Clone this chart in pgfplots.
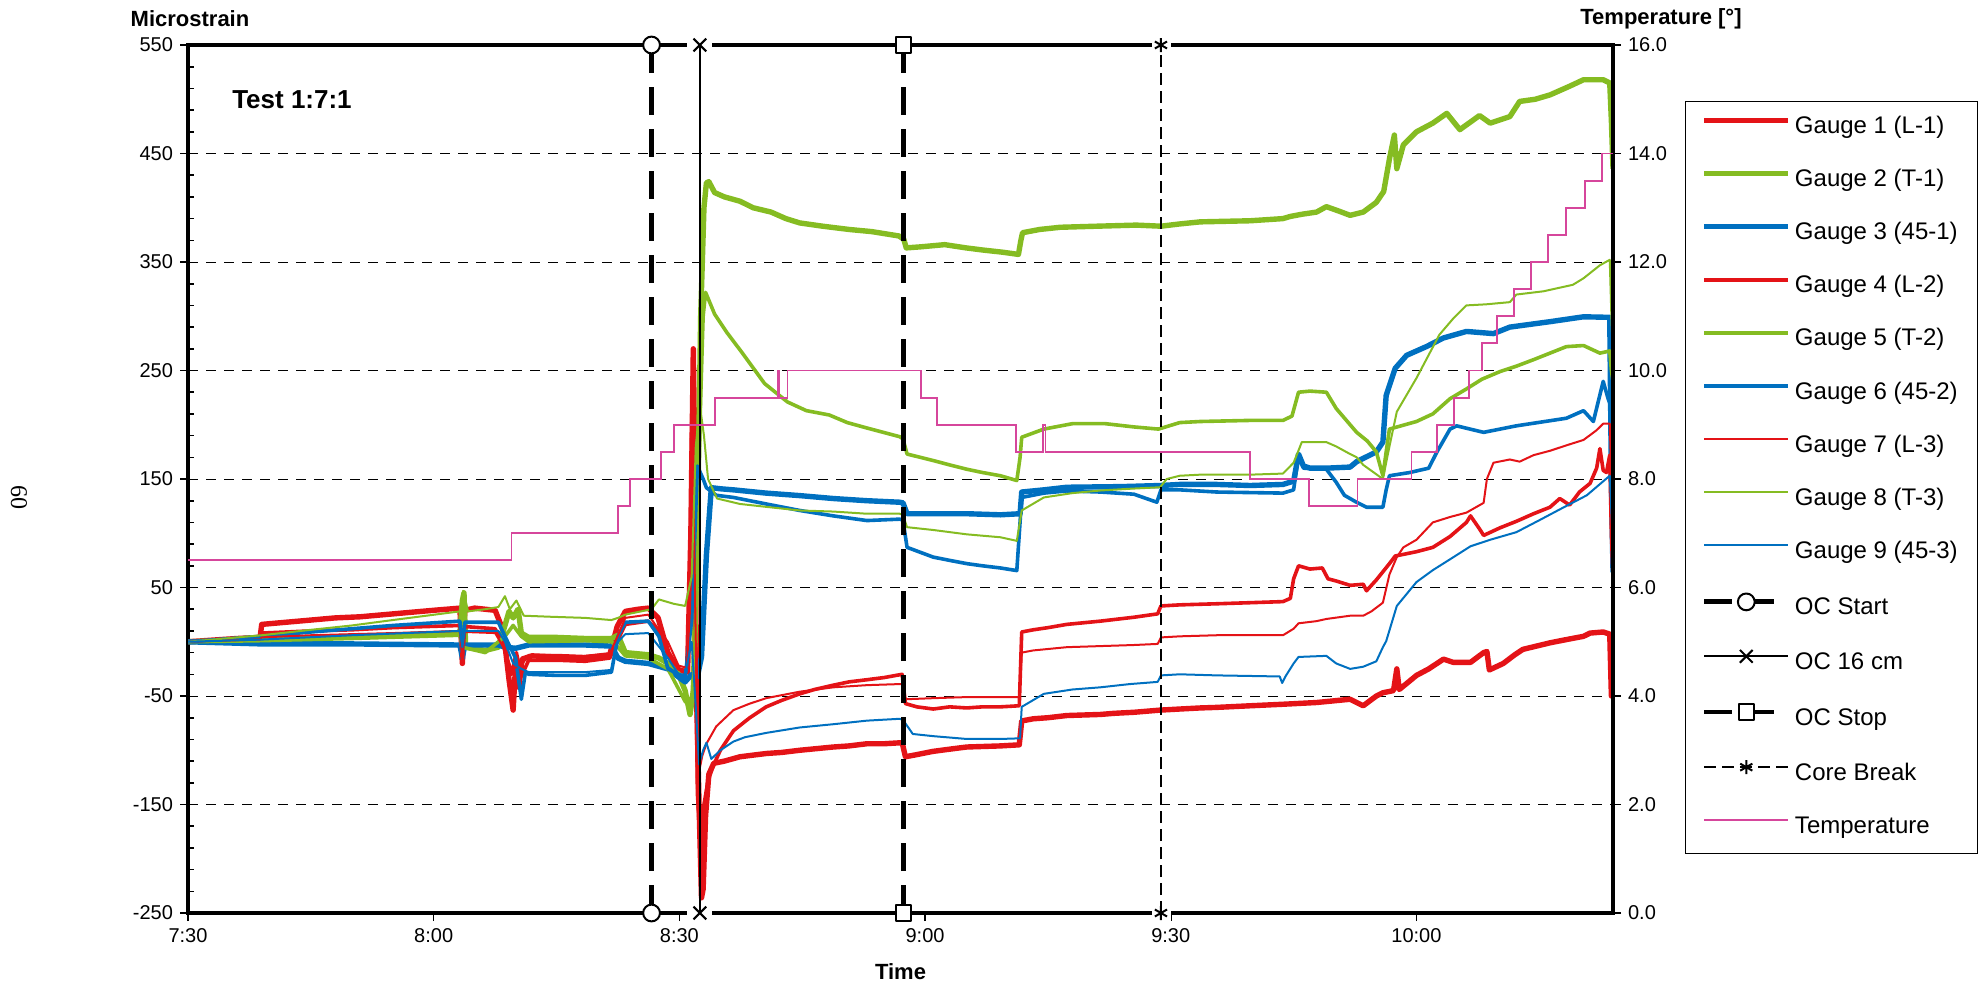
\documentclass[border=0pt]{standalone}
\usepackage{fontspec}
\setmainfont{Liberation Sans}
\newfontfamily\pnfont{Liberation Serif}
\usepackage{pgfplots}
\pgfplotsset{compat=1.18}
\definecolor{gred}{RGB}{228,19,23}
\definecolor{ggreen}{RGB}{133,188,34}
\definecolor{gblue}{RGB}{0,112,192}
\definecolor{tpink}{RGB}{214,70,156}
\pgfplotsset{
  commonaxis/.style={
    at={(94pt,36.5pt)}, anchor=south west,
    scale only axis, width=712.5pt, height=434pt,
    xmin=0, xmax=174, clip mode=individual,
    tick align=outside, major tick length=4pt,
    tick style={black, line width=0.8pt},
    axis line style={line width=2pt, black},
    tick label style={font=\fontsize{10}{12}\selectfont},
  },
}
\begin{document}
\begin{tikzpicture}
\path[use as bounding box] (0,0) rectangle (989.5pt,493pt);
\begin{axis}[commonaxis,
  ymin=-250, ymax=550,
  ytick={-250,-150,...,550},
  yticklabels={-250,-150,-50,50,150,250,350,450,550},
  xtick={0,30,60,90,120,150},
  xticklabels={7:30,8:00,8:30,9:00,9:30,10:00},
  xtick pos=bottom, ytick pos=left,
  ymajorgrids,
  major grid style={black, line width=0.5pt, dash pattern=on 5pt off 4pt},
  extra y ticks={-230,-210,-190,-170,-130,-110,-90,-70,-30,-10,10,30,70,90,110,130,170,190,210,230,270,290,310,330,370,390,410,430,470,490,510,530},
  extra y tick labels={},
  extra y tick style={grid=none, tick align=inside, major tick length=3pt},
  xlabel={Time},
  xlabel style={font=\bfseries\fontsize{11}{13}\selectfont, at={(axis description cs:0.5,0)}, anchor=center, yshift=-29.5pt},
  legend cell align=left,
  legend style={at={(1.0505,0.9355)}, anchor=north west, draw=black, line width=0.6pt, fill=white,
    inner xsep=8pt, inner ysep=7pt, row sep=14.55pt, font=\fontsize{12}{14}\selectfont,
    nodes={text height=9pt, text depth=3pt, inner ysep=0pt, inner xsep=2pt}},
  legend image code/.code={\draw[mark repeat=2,mark phase=2,#1] plot coordinates {(0pt,3.5pt) (21pt,3.5pt) (42pt,3.5pt)};},
  every axis plot/.append style={line join=round},
]
% Gauge 1
\addplot[gred, line width=2.7pt] coordinates {(0,0) (2,1) (4,2) (6,3) (8.8,4) (9.0,16) (12,18) (15,20) (18,22) (21,23) (24,25) (27,27) (30,29) (33.2,31) (33.5,-20) (33.8,29) (35,31) (37.5,29) (38.5,10) (39.2,-35) (39.7,-63) (40.0,-22) (40.4,-42) (40.8,-16) (42,-13) (45,-14) (48,-15) (51.5,-12) (52.4,14) (53.4,28) (55,30) (56.2,31) (57.4,22) (58.6,-10) (59.9,-26) (61.0,-28) (61.4,100) (61.7,270) (61.9,150) (62.1,-50) (62.4,-150) (62.7,-236) (62.9,-228) (63.2,-160) (63.6,-122) (64.2,-112) (65.5,-110) (67.4,-106) (70.6,-103) (72.5,-102) (74.7,-100) (78.8,-97) (80.7,-96) (82.9,-94) (85,-94) (87.2,-93) (87.6,-106) (89,-104) (91,-101) (93,-99) (95.1,-97) (99.2,-96) (101.5,-95) (101.8,-73) (103.2,-71) (105,-70) (107.3,-68) (111.4,-67) (113,-66) (115.5,-65) (118.7,-63) (121.1,-62) (123.6,-61) (125.6,-60.5) (129.7,-59) (133.7,-57.6) (137.8,-56) (141.9,-53) (143.5,-59) (145.1,-50) (145.9,-47) (147.2,-45) (147.6,-25) (147.9,-44) (149.2,-36) (150,-31) (151.5,-25) (153.3,-16) (154.5,-19) (156.6,-19) (158.2,-10) (158.6,-9) (158.9,-26) (160.6,-20) (162,-12) (163,-7) (166.3,-1) (168.3,2) (170.4,5) (171.2,8) (172.8,9) (173.6,7) (173.8,-50) (174,-50)};
\addlegendentry{Gauge 1 (L-1)}
% Gauge 2
\addplot[ggreen, line width=2.7pt] coordinates {(0,0) (5,1) (9,2) (15,4) (20,5) (25,6) (33.2,8) (33.5,38) (33.7,45) (33.9,-5) (36.3,-8) (37.9,-5) (38.7,15) (39.2,28) (39.7,22) (40.3,30) (40.7,8) (41.6,4) (45,4) (48.5,3) (51.7,3) (52.5,6) (53.4,-10) (56.2,-12) (57.5,-15) (58.6,-20) (59.9,-30) (60.7,-45) (61.3,-67) (61.7,-45) (62.2,100) (62.6,300) (63.0,400) (63.3,423) (63.6,424) (64.3,414) (65.5,410) (67.4,406) (69,400) (71.2,396) (73,390) (74.7,386) (77.5,383) (80.7,380) (83.5,378) (86.8,374) (87.4,371) (87.7,363) (89.5,364) (92.4,366) (95,363) (97.1,361) (99.5,359) (101.4,357) (101.7,370) (101.9,377) (104,380) (106.5,382) (111,383) (115.8,384) (118.8,383) (121,385) (123.6,387) (129.7,388) (133.7,390) (134.6,392) (136,394) (137.8,396) (139,401) (140.5,397) (141.9,393) (143.5,396) (145.1,405) (146,415) (146.7,445) (147.3,467) (147.6,436) (148.4,458) (150,470) (152,478) (153.7,487) (155.3,472) (157.7,485) (159,478) (161.4,484) (162.6,498) (164.5,500) (166.3,504) (168.7,512) (170.4,518) (172.8,518) (173.6,515) (173.8,480) (174,436)};
\addlegendentry{Gauge 2 (T-1)}
% Gauge 3
\addplot[gblue, line width=2.7pt] coordinates {(0,0) (9,-2) (20,-2) (33.2,-3) (33.5,-15) (33.8,-3) (37.9,-3) (38.7,-5) (40,-6) (41.6,-3) (48.5,-3) (51.7,-4) (52.5,-15) (53.4,-18) (56.2,-20) (58.6,-25) (60.7,-37) (61.5,-30) (62.2,-32) (62.7,-14) (63.3,80) (63.9,142) (65,141) (66.6,140) (70.6,137) (74.7,134.7) (78.8,132) (82.9,130) (86.9,128.6) (87.3,128) (87.8,118) (91,118) (95.1,118) (99.2,117) (101.6,118) (101.8,138) (104.5,140) (107.3,142.4) (114,143) (118.7,144) (121.1,145) (125.6,145) (129.7,144) (133.7,145) (135,148) (135.6,173) (136.2,162) (137,160) (139,160) (141.9,161) (142.7,166) (145.1,175) (145.9,184) (146.3,227) (147.4,252) (148.8,264) (151.2,272) (153.3,280) (156.1,286) (159.4,284) (161.4,290) (166.3,295) (170.4,299.5) (173.6,299) (173.8,150) (174,64)};
\addlegendentry{Gauge 3 (45-1)}
% Gauge 4
\addplot[gred, line width=1.8pt] coordinates {(0,0) (4,2) (8.8,4) (9.0,8) (15,10) (20,11) (25,13) (33.2,15) (33.5,-18) (33.8,14) (37.5,12) (38.5,-3) (39.5,-30) (40.1,-10) (40.7,-32) (41.6,-17) (45,-17) (48.5,-18) (51.5,-15) (52.5,2) (53.4,16) (56.2,19) (57.4,10) (58.6,-10) (59.9,-25) (60.9,-27) (61.3,40) (61.5,200) (61.7,230) (61.9,60) (62.2,-140) (62.6,-190) (63.0,-150) (63.5,-128) (64.1,-115) (65,-100) (66.6,-82) (68.6,-70) (70.6,-60) (72.5,-54) (74.7,-48) (76.5,-44) (78.8,-40) (80.7,-37) (82.9,-35) (85,-33) (87.2,-30) (87.6,-57) (89,-60) (91,-62) (93,-60) (95.1,-61) (97,-60) (99.2,-60) (101.5,-59) (101.8,9) (103.2,11) (105,13) (107.3,16) (111.4,19) (115.5,22.6) (118.4,25.7) (118.8,33) (121.1,34) (125.6,35) (129.7,36) (133.7,37) (134.6,40) (135.0,58) (135.6,70) (137,67) (138.5,68) (139.2,58) (140.2,56) (141.9,52) (143.5,53) (143.9,47) (145.1,57) (146.7,72) (147.4,79) (150,83) (152,87) (154.1,97) (156.1,110) (156.6,116) (157.7,104) (158.2,98) (160.2,105) (162.2,111) (164.3,118) (166.3,124) (167.5,132) (168.7,126) (169.9,138) (171.2,146) (172.0,160) (172.4,178) (172.8,158) (173.2,156) (173.6,172) (173.8,100) (174,60)};
\addlegendentry{Gauge 4 (L-2)}
% Gauge 5
\addplot[ggreen, line width=1.8pt] coordinates {(0,0) (9,1) (20,3) (33.2,6) (33.5,-5) (36.3,-10) (38.7,5) (39.7,15) (40.7,5) (41.6,0) (48.5,1) (51.7,0) (52.5,-5) (53.4,-13) (56.2,-15) (58.6,-25) (60.7,-55) (61.5,-60) (62,0) (62.5,200) (62.9,300) (63.2,322) (64.3,302) (65.8,285) (67.6,267) (70.4,238) (73.2,221) (75.5,213) (78.3,209) (80.5,202) (82.9,197) (86.9,189) (87.3,187) (87.8,173) (91,167) (93,163) (95.1,159) (97,156) (99.2,153) (101.2,148.6) (101.6,170) (101.8,188.5) (104.5,196) (108,201) (112,201) (115.5,198) (118.5,196) (121.1,202) (123.6,203) (129.7,204) (133.7,204) (134.8,208) (135.6,230) (137,231) (139,230) (140.2,215) (141.9,200) (142.7,193) (144,185) (145.1,175) (145.9,153) (146.3,175) (146.7,196) (150,203) (152,210) (154.1,224) (156.1,233) (158,242) (160.2,249) (162.2,254) (164.3,260) (166.3,266) (168.3,272) (170.4,273) (172.4,266) (173.6,268) (173.8,250) (174,240)};
\addlegendentry{Gauge 5 (T-2)}
% Gauge 6
\addplot[gblue, line width=1.8pt] coordinates {(0,0) (9,5) (15,9) (20,12) (25,15) (33.2,19) (33.5,-10) (33.8,18) (37.9,18) (38.7,5) (40,-15) (40.7,-53) (41.2,-28) (41.6,-30) (45,-31) (48.5,-31) (51.7,-28) (52.5,5) (53.4,18) (56.2,19) (57.5,5) (58.6,-25) (60.7,-33) (61.5,20) (62.2,162) (62.9,150) (63.3,142) (64.5,135) (66.6,133) (70.6,127) (74.7,121) (78.8,116) (82.9,111.7) (86.9,113) (87.3,112) (87.8,87) (91,78) (93,75) (95.1,72) (97,70) (99.2,68) (101.2,65.6) (101.8,133) (104.5,137) (107.3,139) (111.4,138) (115.5,136) (118.3,128.6) (118.8,140) (121.1,140) (125.6,138) (133.7,137) (135,140) (135.6,172) (136.2,160) (139,159) (140.2,147) (141.2,135) (142.7,128.5) (143.9,124) (145.9,124) (146.3,140) (146.7,153) (149.2,156) (151.5,160) (152.5,175) (154.1,196) (154.9,199) (158.2,193) (162.2,199) (168.3,206) (170.4,213) (171.6,203) (172.8,240) (173.4,224) (174,212)};
\addlegendentry{Gauge 6 (45-2)}
% Gauge 7
\addplot[gred, line width=1pt] coordinates {(0,0) (4,1) (8.8,2) (9.0,4) (15,6) (20,7) (25,8) (33.2,10) (33.5,-15) (33.8,9) (37.5,8) (38.5,-5) (39.5,-25) (40.7,-22) (41.6,-12) (45,-12) (48.5,-13) (51.5,-11) (52.5,6) (53.4,22) (56.2,25) (57.4,12) (58.6,0) (59.9,-22) (60.9,-24) (61.3,30) (61.7,150) (62.1,-50) (62.4,-120) (62.8,-105) (63.3,-94) (64.5,-78) (66.6,-63) (68.6,-57) (70.6,-52) (74.7,-46) (78.8,-42) (82.9,-40) (86.9,-39) (87.2,-39) (87.6,-53) (91,-52) (95.1,-51) (99.2,-51) (101.5,-51) (101.8,-10) (103.2,-8) (107.3,-5) (111.4,-4) (115.5,-3) (118.4,-2) (118.8,4) (121.1,5) (125.6,6) (129.7,6) (133.7,6) (135,12) (135.6,17) (137.8,19) (139,21) (141.9,24) (143.5,24) (144.5,28) (145.9,36) (146.7,62) (147.6,78) (148.4,87) (150,94) (152,110) (154.1,115) (156.1,119) (158.2,128) (158.6,150) (159.4,165) (161.4,168) (162.6,166) (164.3,172) (166.3,176) (168.3,181) (170.4,186) (172.0,195) (172.8,201) (173.6,201) (173.8,150) (174,120)};
\addlegendentry{Gauge 7 (L-3)}
% Gauge 8
\addplot[ggreen, line width=1pt] coordinates {(0,0) (9,6) (15,11) (20,15) (25,20) (33.2,28) (33.6,47) (34.2,28) (36.3,30) (37.9,32) (38.7,42) (39.3,30) (40.1,38) (41,24) (44.4,23) (48.5,22) (51.7,20) (52.5,22) (53.4,25) (56.6,30) (57.5,39) (59.3,35) (60.7,33) (61.5,60) (62.0,180) (62.5,218) (63.0,190) (63.5,150) (64.6,132) (67.4,127) (71,124) (74.7,121) (78.8,120) (82.9,118) (86.9,118) (87.3,117) (87.8,105.6) (91,103) (95.1,99) (99.2,96.3) (101.2,93) (101.8,121) (104.5,133) (108,137) (111.4,139.4) (115,141) (118.7,142.4) (119.5,150) (121.1,153) (123.6,154) (129.7,154) (133.7,155) (135,165) (136,184) (139,184) (140.2,180) (141.9,173) (142.7,170) (143.5,163) (145.9,150) (146.7,180) (147.6,212) (150,243) (152.8,283) (154.5,298) (156.1,310) (158.5,311) (161.4,313) (162.2,320) (165.5,323) (169.1,329) (170.4,335) (172.4,347) (173.6,352) (173.8,300) (174,260)};
\addlegendentry{Gauge 8 (T-3)}
% Gauge 9
\addplot[gblue, line width=1pt] coordinates {(0,0) (9,2) (20,6) (33.2,10) (33.5,-5) (33.8,10) (37.9,10) (38.7,0) (39.7,-20) (40.7,-25) (41.6,-28) (48.5,-28) (51.7,-26) (52.5,0) (53.4,7) (56.2,8) (58.6,-15) (59.9,-30) (60.7,-30) (61.5,0) (62.0,-60) (62.4,-113) (62.9,-100) (63.3,-93) (63.9,-108) (65,-100) (66.6,-92) (68,-88) (70.6,-84) (74.7,-79) (78.8,-76) (82.9,-72.7) (86.9,-71) (87.3,-72) (88.5,-85) (91,-87) (95.1,-89.6) (99.2,-89.6) (101.6,-89) (101.8,-60) (104.5,-48) (108,-44) (111.4,-42) (115,-39) (118.4,-37) (118.8,-31) (121.1,-30) (125.6,-31) (133.3,-32) (133.6,-38) (134,-32) (135,-20) (135.6,-14) (139,-13) (140.2,-20) (141.9,-25) (143.5,-23) (145.1,-18) (145.9,-5) (146.3,0.5) (147.6,33) (150,55) (152,66) (154.1,76) (156.6,88) (159,94) (162.2,101) (165,112) (167.5,122) (170.8,135) (173.6,153) (173.8,120) (174,90)};
\addlegendentry{Gauge 9 (45-3)}
% event lines
\addplot[black, line width=2.4pt, dash pattern=on 14pt off 7pt, mark=*, mark size=4.2pt, mark options={solid, fill=white, draw=black, line width=1pt}] coordinates {(56.6,-250) (56.6,550)};
\addlegendentry{OC Start}
\addplot[only marks, mark=square*, mark size=6pt, white, forget plot] coordinates {(62.5,-250) (62.5,550)};
\addplot[black, line width=1pt, mark=x, mark size=4.5pt, mark options={solid, line width=1pt}] coordinates {(62.5,-250) (62.5,550)};
\addlegendentry{OC 16 cm}
\addplot[black, line width=2.4pt, dash pattern=on 14pt off 7pt, mark=square*, mark size=3.8pt, mark options={solid, fill=white, draw=black, line width=1pt}] coordinates {(87.4,-250) (87.4,550)};
\addlegendentry{OC Stop}
\addplot[only marks, mark=square*, mark size=4.5pt, white, forget plot] coordinates {(118.8,-250) (118.8,550)};
\addplot[black, line width=1pt, dash pattern=on 6pt off 3pt, mark=asterisk, mark size=3.5pt, mark options={solid, line width=1pt}] coordinates {(118.8,-250) (118.8,550)};
\addlegendentry{Core Break}
\addlegendimage{tpink, line width=0.9pt}
\addlegendentry{Temperature}
\end{axis}
\begin{axis}[commonaxis,
  ymin=0, ymax=16,
  axis y line*=right, axis x line=none,
  ytick={0,2,...,16},
  yticklabels={0.0,2.0,4.0,6.0,8.0,10.0,12.0,14.0,16.0},
]
\addplot[tpink, line width=0.9pt] coordinates {(0,6.5) (39.5,6.5) (39.5,7.0) (52.5,7.0) (52.5,7.5) (54.0,7.5) (54.0,8.0) (57.8,8.0) (57.8,8.5) (59.3,8.5) (59.3,9.0) (64.3,9.0) (64.3,9.5) (72.0,9.5) (72.0,10.0) (72.2,10.0) (72.2,9.5) (73.2,9.5) (73.2,10.0) (89.5,10.0) (89.5,9.5) (91.5,9.5) (91.5,9.0) (101.1,9.0) (101.1,8.5) (104.4,8.5) (104.4,9.0) (104.7,9.0) (104.7,8.5) (129.7,8.5) (129.7,8.0) (136.9,8.0) (136.9,7.5) (142.8,7.5) (142.8,8.0) (149.4,8.0) (149.4,8.5) (152.5,8.5) (152.5,9.0) (154.6,9.0) (154.6,9.5) (156.4,9.5) (156.4,10.0) (158.0,10.0) (158.0,10.5) (159.8,10.5) (159.8,11.0) (161.9,11.0) (161.9,11.5) (164.0,11.5) (164.0,12.0) (166.1,12.0) (166.1,12.5) (168.3,12.5) (168.3,13.0) (170.6,13.0) (170.6,13.5) (172.7,13.5) (172.7,14.0) (174,14.0)};
\end{axis}
\node[font=\bfseries\fontsize{11}{13}\selectfont] at (95pt,483.5pt) {Microstrain};
\node[font=\bfseries\fontsize{11}{13}\selectfont] at (830.5pt,483.5pt) {Temperature [°]};
\node[font=\bfseries\fontsize{13}{15}\selectfont] at (146pt,443pt) {Test 1:7:1};
\node[font=\pnfont\fontsize{12}{14}\selectfont, rotate=-90] at (9.5pt,244pt) {60};
\end{tikzpicture}
\end{document}
